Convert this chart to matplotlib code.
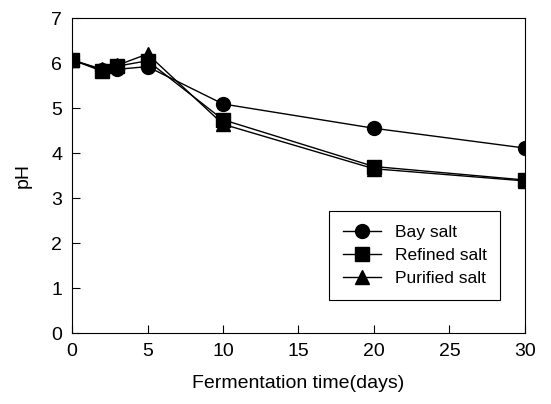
import matplotlib
matplotlib.use("Agg")
import matplotlib.pyplot as plt

plt.rcParams['font.family'] = ['Liberation Sans', 'DejaVu Sans']

days = [0, 2, 3, 5, 10, 20, 30]
bay_salt = [6.07, 5.84, 5.86, 5.92, 5.09, 4.55, 4.11]
refined_salt = [6.07, 5.82, 5.93, 6.05, 4.74, 3.70, 3.40]
purified_salt = [6.07, 5.86, 5.95, 6.20, 4.64, 3.65, 3.38]

fig = plt.figure(figsize=(5.51, 4.04), dpi=100)
ax = fig.add_axes([0.1307, 0.1757, 0.822, 0.7797])

ax.plot(days, bay_salt, 'k-', marker='o', ms=10, lw=1, label='Bay salt')
ax.plot(days, refined_salt, 'k-', marker='s', ms=9.5, lw=1, label='Refined salt')
ax.plot(days, purified_salt, 'k-', marker='^', ms=10, lw=1, label='Purified salt')

ax.set_xlim(0, 30)
ax.set_ylim(0, 7)
ax.set_xticks([0, 5, 10, 15, 20, 25, 30])
ax.set_yticks(range(8))
ax.tick_params(direction='in', labelsize=14, length=6, pad=7)
ax.set_xlabel('Fermentation time(days)', fontsize=14, labelpad=11)
ax.set_ylabel('pH', fontsize=14, labelpad=14)

leg = ax.legend(loc='lower right', bbox_to_anchor=(0.965, 0.078), fontsize=12.5,
                fancybox=False, edgecolor='black', framealpha=1,
                handlelength=2.2, borderpad=0.8, labelspacing=0.45)
leg.get_frame().set_linewidth(0.8)

fig.savefig('out.png', dpi=100)
